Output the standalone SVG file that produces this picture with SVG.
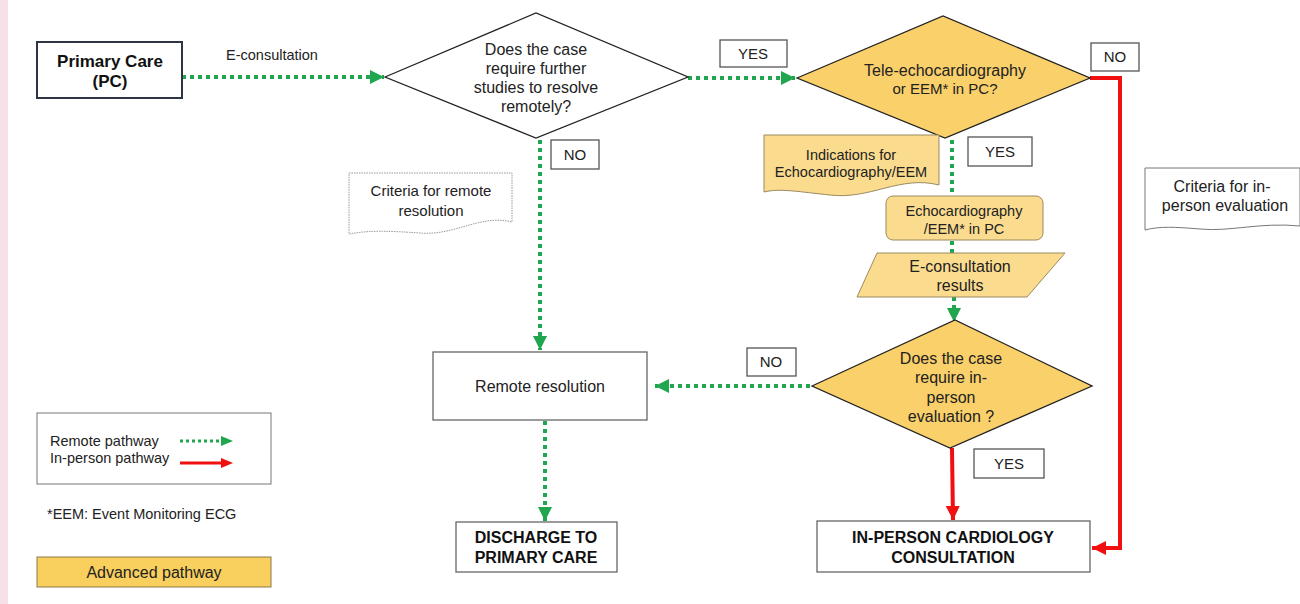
<svg xmlns="http://www.w3.org/2000/svg" width="1300" height="604" viewBox="0 0 1300 604">
<style>
text{font-family:"Liberation Sans",Arial,sans-serif;fill:#222;text-anchor:middle}
.t16{font-size:16px}
.t15{font-size:15px}
.t145{font-size:14.5px}
.b{font-weight:bold;font-size:16px;fill:#111}
.box{fill:#fff;stroke:#666;stroke-width:1.3}
.lbl{fill:#fff;stroke:#555;stroke-width:1.3}
.yel{fill:#f9d06a;stroke:#222;stroke-width:1.3}
.yb{fill:#fbdc8f;stroke:#9a8a60;stroke-width:1}
.g{fill:none;stroke:#1fa64e;stroke-width:4;stroke-dasharray:4 4}
.r{fill:none;stroke:#f01010;stroke-width:4}
</style>
<defs>
<marker id="gA" viewBox="0 0 10 10" refX="10" refY="5" markerWidth="14" markerHeight="14" markerUnits="userSpaceOnUse" orient="auto"><path d="M0,0 L10,5 L0,10 Z" fill="#1fa64e"/></marker>
<marker id="rA" viewBox="0 0 10 10" refX="10" refY="5" markerWidth="14" markerHeight="14" markerUnits="userSpaceOnUse" orient="auto"><path d="M0,0 L10,5 L0,10 Z" fill="#f01010"/></marker>
</defs>
<rect x="0" y="0" width="1300" height="604" fill="#fff"/>
<rect x="0" y="0" width="8" height="604" fill="#f8e1e6"/>

<g id="connectors">
<path class="g" d="M182,77 L384,77" marker-end="url(#gA)"/>
<path class="g" d="M688,78 L795,78" marker-end="url(#gA)"/>
<path class="r" d="M1090,78 L1120,78 L1120,548 L1092,548" marker-end="url(#rA)"/>
<path class="g" d="M952,140 L952,196"/>
<path class="g" d="M952,241 L952,253"/>
<path class="g" d="M954,297 L954,322" marker-end="url(#gA)"/>
<path class="g" d="M540,140 L540,350" marker-end="url(#gA)"/>
<path class="g" d="M810,386 L655,386" marker-end="url(#gA)"/>
<path class="r" d="M952,448 L953,520" marker-end="url(#rA)"/>
<path class="g" d="M545,421 L545,521" marker-end="url(#gA)"/>
</g>

<g id="primary-care">
<rect x="37" y="42" width="145" height="56" fill="#fff" stroke="#2d3446" stroke-width="2"/>
<text x="110" y="67" class="b" style="font-size:17px">Primary Care</text>
<text x="110" y="87" class="b" style="font-size:17px">(PC)</text>
</g>
<g id="label-econsult"><text x="272" y="60" style="font-size:14.5px">E-consultation</text></g>

<g id="decision1">
<polygon points="385,77 536,13 688,77 536,138" fill="#fff" stroke="#222" stroke-width="1.3"/>
<text x="536" y="55" class="t16">Does the case</text>
<text x="536" y="74" class="t16">require further</text>
<text x="536" y="93" class="t16">studies to resolve</text>
<text x="536" y="112" class="t16">remotely?</text>
</g>

<g id="yes1"><rect x="720" y="40" width="67" height="27" class="lbl"/><text x="753" y="59" class="t15">YES</text></g>

<g id="decision2">
<polygon points="797,78 943,16 1090,78 945,138" class="yel"/>
<text x="945" y="76" class="t16">Tele-echocardiography</text>
<text x="945" y="94" class="t15">or EEM* in PC?</text>
</g>

<g id="no1"><rect x="1091" y="43" width="48" height="28" class="lbl"/><text x="1115" y="62" class="t15">NO</text></g>

<g id="indications">
<path d="M764,135 L939,135 L939,185 C900,175 870,200 830,195 C800,192 780,188 764,192 Z" class="yb"/>
<text x="851" y="160" class="t145">Indications for</text>
<text x="851" y="177" class="t145">Echocardiography/EEM</text>
</g>

<g id="yes2"><rect x="968" y="137" width="64" height="29" class="lbl"/><text x="1000" y="157" class="t15">YES</text></g>

<g id="echo-pc">
<rect x="886" y="196" width="157" height="44" rx="7" class="yb"/>
<text x="964" y="216" class="t145">Echocardiography</text>
<text x="964" y="234" class="t145">/EEM* in PC</text>
</g>

<g id="econsult-results">
<polygon points="877,253 1065,253 1027,297 857,297" class="yb"/>
<text x="960" y="272" class="t16">E-consultation</text>
<text x="960" y="291" class="t16">results</text>
</g>

<g id="decision3">
<polygon points="812,386 955,320 1092,386 950,448" class="yel"/>
<text x="951" y="364" class="t16">Does the case</text>
<text x="951" y="383" class="t16">require in-</text>
<text x="951" y="403" class="t16">person</text>
<text x="951" y="422" class="t16">evaluation ?</text>
</g>

<g id="yes3"><rect x="974" y="449" width="70" height="29" class="lbl"/><text x="1009" y="469" class="t15">YES</text></g>

<g id="inperson">
<rect x="817" y="521" width="273" height="51" class="box"/>
<text x="953" y="543" class="b">IN-PERSON CARDIOLOGY</text>
<text x="953" y="563" class="b">CONSULTATION</text>
</g>

<g id="no2"><rect x="551" y="140" width="48" height="29" class="lbl"/><text x="575" y="160" class="t15">NO</text></g>

<g id="criteria-remote">
<path d="M349,173 L512,173 L512,222 C480,214 455,236 420,233 C390,231 370,230 349,234 Z" fill="#fff" stroke="#999" stroke-width="1" stroke-dasharray="1.5 1"/>
<text x="431" y="196" class="t15">Criteria for remote</text>
<text x="431" y="216" class="t15">resolution</text>
</g>

<g id="criteria-inperson">
<path d="M1145,168 L1300,168 L1300,226 C1260,222 1230,232 1200,229 C1175,227 1160,226 1145,230 Z" fill="#fff" stroke="#777" stroke-width="1"/>
<text x="1222" y="192" class="t16">Criteria for in-</text>
<text x="1225" y="211" class="t16">person evaluation</text>
</g>

<g id="remote-resolution">
<rect x="433" y="352" width="214" height="68" class="box"/>
<text x="540" y="392" class="t16">Remote resolution</text>
</g>

<g id="no3"><rect x="747" y="348" width="49" height="28" class="lbl"/><text x="771" y="367" class="t15">NO</text></g>

<g id="discharge">
<rect x="456" y="522" width="161" height="50" class="box"/>
<text x="536" y="543" class="b">DISCHARGE TO</text>
<text x="536" y="563" class="b">PRIMARY CARE</text>
</g>

<g id="legend">
<rect x="37" y="413" width="234" height="71" fill="#fff" stroke="#777" stroke-width="1"/>
<text x="50" y="446" class="t145" style="text-anchor:start">Remote pathway</text>
<text x="50" y="463" class="t145" style="text-anchor:start">In-person pathway</text>
<path d="M180,441 L224,441" fill="none" stroke="#1fa64e" stroke-width="3" stroke-dasharray="3 3"/>
<path d="M221,436 L233,441 L221,446 Z" fill="#1fa64e"/>
<path d="M180,463 L224,463" fill="none" stroke="#f01010" stroke-width="3"/>
<path d="M221,458 L233,463 L221,468 Z" fill="#f01010"/>
</g>
<g id="eem-note"><text x="47" y="519" class="t145" style="text-anchor:start">*EEM: Event Monitoring ECG</text></g>
<g id="advanced">
<rect x="37" y="557" width="234" height="30" fill="#f9cf5e" stroke="#8a7a4a" stroke-width="1"/>
<text x="154" y="578" class="t16">Advanced pathway</text>
</g>
</svg>
